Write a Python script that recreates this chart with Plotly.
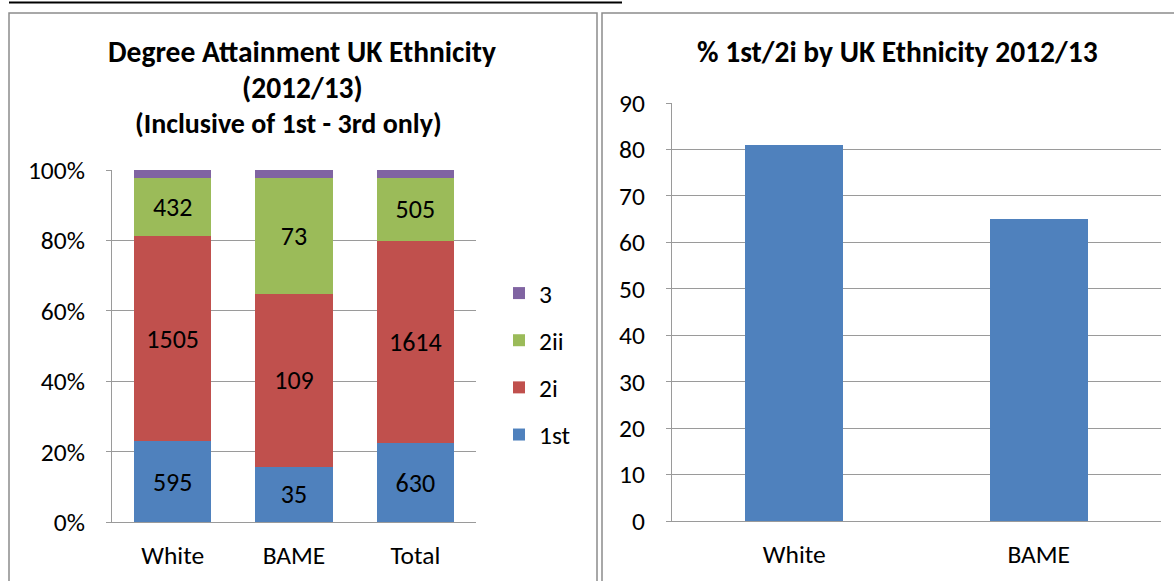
import plotly.graph_objects as go
import pandas as pd

# ---- data ----
categories = ["White", "BAME", "Total"]
first = [595, 35, 630]
two_i = [1505, 109, 1614]
two_ii = [432, 73, 505]
third = [56, 5, 61]  # unlabelled thin segment, estimated

right_categories = ["White", "BAME"]
pct_first_2i = [81, 65]

left_ticks = [0, 20, 40, 60, 80, 100]
left_ticktext = ["0%", "20%", "40%", "60%", "80%", "100%"]
right_ticks = [0, 10, 20, 30, 40, 50, 60, 70, 80, 90]

FONT = "Carlito, Calibri, Lato, sans-serif"
W, H = 1174, 581
TICK = 25.5

df = pd.DataFrame({"cat": categories, "1st": first, "2i": two_i, "2ii": two_ii, "3": third})
df["total"] = df[["1st", "2i", "2ii", "3"]].sum(axis=1)

series = [("1st", "#4F81BD", True), ("2i", "#C0504D", True), ("2ii", "#9BBB59", True), ("3", "#8064A2", False)]

fig = go.Figure()
for i, (name, color, labelled) in enumerate(series):
    fig.add_trace(go.Bar(
        x=df["cat"], y=df[name] / df["total"] * 100,
        name=name, marker=dict(color=color, line=dict(width=0)),
        text=[str(v) for v in df[name]] if labelled else None,
        textposition="inside" if labelled else "none",
        insidetextanchor="middle", textangle=0,
        textfont=dict(size=26, color="black", family=FONT),
        legendgroup=name, legendrank=len(series) - i, xaxis="x", yaxis="y",
    ))

fig.add_trace(go.Bar(
    x=right_categories, y=pct_first_2i, marker=dict(color="#4F81BD", line=dict(width=0)),
    showlegend=False, xaxis="x2", yaxis="y2", width=0.4,
))

def px(x):
    return x / W

def py(y):
    return (H - y) / H

grid = "#9a9a9a"
common_x = dict(showgrid=False, showline=True, linecolor=grid, linewidth=1, ticks="",
                tickfont=dict(size=TICK), ticklabelstandoff=10, automargin=False, fixedrange=True)
common_y = dict(showgrid=True, gridcolor=grid, gridwidth=1, showline=True, linecolor=grid, linewidth=1,
                ticks="outside", ticklen=5, tickcolor=grid, tickfont=dict(size=TICK),
                ticklabelstandoff=16, zeroline=False, automargin=False, fixedrange=True)

fig.update_layout(
    template="none",
    width=W, height=H, margin=dict(l=0, r=0, t=0, b=0, pad=0, autoexpand=False),
    paper_bgcolor="white", plot_bgcolor="white",
    font=dict(family=FONT, size=TICK, color="black"),
    barmode="stack", bargap=0.36,
    xaxis=dict(domain=[px(112), px(476)], **common_x),
    yaxis=dict(domain=[py(522), py(170)], range=[0, 100], tickvals=left_ticks, ticktext=left_ticktext,
               **common_y),
    xaxis2=dict(domain=[px(672), px(1161)], anchor="y2", **common_x),
    yaxis2=dict(domain=[py(521), py(103)], anchor="x2", range=[0, 90], tickvals=right_ticks, **common_y),
    legend=dict(x=px(499), y=py(364), xanchor="left", yanchor="middle", traceorder="grouped",
                tracegroupgap=11, font=dict(size=TICK), bgcolor="rgba(0,0,0,0)", itemwidth=30),
)

annotations = [
    dict(text="<b>Degree Attainment UK Ethnicity</b>", x=px(302), y=py(52), font=dict(size=29.5)),
    dict(text="<b>(2012/13)</b>", x=px(302), y=py(88), font=dict(size=29.5)),
    dict(text="<b>(Inclusive of 1st - 3rd only)</b>", x=px(288), y=py(124), font=dict(size=28)),
    dict(text="<b>% 1st/2i by UK Ethnicity 2012/13</b>", x=px(897), y=py(52), font=dict(size=29.5)),
]
for a in annotations:
    a.update(xref="paper", yref="paper", showarrow=False, xanchor="center", yanchor="middle")
fig.update_layout(annotations=annotations)

border = "#8c8c8c"
fig.update_layout(shapes=[
    dict(type="line", xref="paper", yref="paper", x0=px(9), x1=px(622), y0=py(2.5), y1=py(2.5),
         line=dict(color="black", width=2)),
    dict(type="rect", xref="paper", yref="paper", x0=px(9), x1=px(597), y0=py(600), y1=py(13),
         line=dict(color=border, width=1.5)),
    dict(type="rect", xref="paper", yref="paper", x0=px(602), x1=px(1190), y0=py(600), y1=py(13),
         line=dict(color=border, width=1.5)),
])

fig.write_html("out.html", config={"displayModeBar": False},
               post_script="document.body.style.margin='0';document.body.style.overflow='hidden';")
